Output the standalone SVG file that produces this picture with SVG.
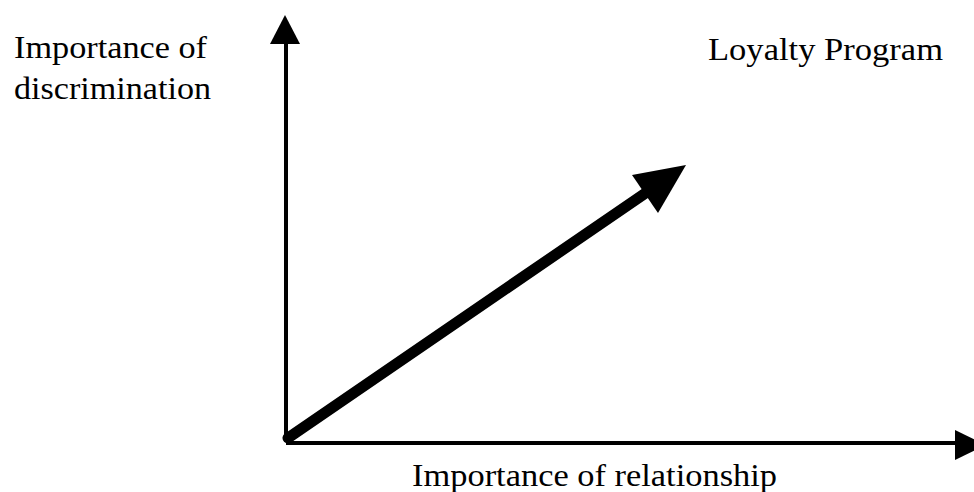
<svg xmlns="http://www.w3.org/2000/svg" width="974" height="492" viewBox="0 0 974 492">
<style>
.t{font-family:"Liberation Serif","Times New Roman",serif;font-size:32px;fill:#000}
.ax{stroke:#000;stroke-width:4;fill:none}
</style>
<rect width="974" height="492" fill="#fff"/>
<g id="connectors">
<line class="ax" x1="286" y1="442" x2="286" y2="40"/>
<polygon points="285,15 270,44 300,44" fill="#000"/>
<line class="ax" x1="286" y1="443" x2="958" y2="443"/>
<polygon points="986,445 955,430 955,460" fill="#000"/>
<line x1="288" y1="438" x2="650" y2="190" stroke="#000" stroke-width="11" stroke-linecap="round"/>
<polygon points="686,165 632,175 658,213" fill="#000"/>
</g>
<g id="label-y"><text class="t" x="14" y="58" textLength="193" lengthAdjust="spacingAndGlyphs">Importance of</text>
<text class="t" x="14" y="99" textLength="197" lengthAdjust="spacingAndGlyphs">discrimination</text></g>
<g id="label-loyalty"><text class="t" x="708" y="60" textLength="235" lengthAdjust="spacingAndGlyphs">Loyalty Program</text></g>
<g id="label-x"><text class="t" x="412" y="486" textLength="365" lengthAdjust="spacingAndGlyphs">Importance of relationship</text></g>
</svg>
